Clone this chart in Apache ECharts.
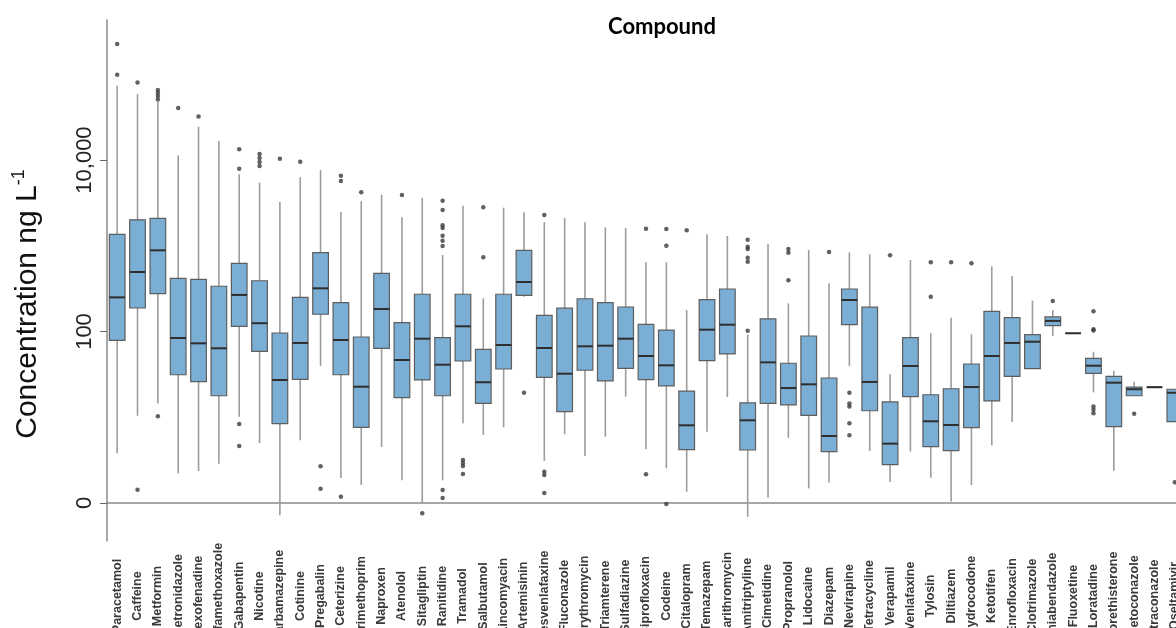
<!DOCTYPE html>
<html>
<head>
  <meta charset="utf-8">
  <title>Compound concentrations</title>
  <script src="https://cdn.jsdelivr.net/npm/echarts@6/dist/echarts.min.js"></script>
  <style>
    html, body { margin: 0; padding: 0; background: #fff; }
    #chart { width: 1176px; height: 628px; }
  </style>
</head>
<body>
<div id="chart"></div>
<script type="text/javascript">
// compounds, in plotted order
var compounds = ['Paracetamol', 'Caffeine', 'Metformin', 'Metronidazole', 'Fexofenadine', 'Sulfamethoxazole',
  'Gabapentin', 'Nicotine', 'Carbamazepine', 'Cotinine', 'Pregabalin', 'Ceterizine', 'Trimethoprim', 'Naproxen',
  'Atenolol', 'Sitagliptin', 'Ranitidine', 'Tramadol', 'Salbutamol', 'Lincomyacin', 'Artemisinin', 'Desvenlafaxine',
  'Fluconazole', 'Erythromycin', 'Triamterene', 'Sulfadiazine', 'Ciprofloxacin', 'Codeine', 'Citalopram', 'Temazepam',
  'Clarithromycin', 'Amitriptyline', 'Cimetidine', 'Propranolol', 'Lidocaine', 'Diazepam', 'Nevirapine', 'Tetracycline',
  'Verapamil', 'Venlafaxine', 'Tylosin', 'Diltiazem', 'Hydrocodone', 'Ketotifen', 'Enrofloxacin', 'Clotrimazole',
  'Thiabendazole', 'Fluoxetine', 'Loratadine', 'Norethisterone', 'Ketoconazole', 'Itraconazole', 'Oseltamivir'];

// box statistics, ng/L
var whiskerLow = [3.8, 10.4, 14.5, 2.2, 2.36, 2.87, 10.1, 5.0, 0.72, 5.39, 39.6, 1.96, 1.62, 4.5,
  1.84, 0.99, 1.84, 8.5, 6.21, 7.63, 255, 3.09, 6.33, 3.53, 5.93, 17.4, 4.23, 2.54, 1.35, 6.78,
  17.2, 0.69, 1.15, 5.77, 1.48, 1.73, 39.6, 4.04, 1.76, 3.97, 1.97, 1.04, 1.62, 4.71, 8.8, 36.8,
  88.6, 95.3, 19.5, 2.38, 17.8, 22.4, 8.87];
var quart1 = [79, 188, 276, 31.3, 26, 17.8, 115, 58.7, 8.41, 27.7, 159, 31.3, 7.63, 63.7,
  16.9, 27.2, 17.8, 45.3, 14.5, 36.5, 264, 29.2, 11.6, 35.3, 26.5, 37.2, 27.4, 23.2, 4.19, 45.7,
  54.7, 4.15, 14.5, 13.9, 10.5, 3.97, 120, 11.9, 2.8, 17.4, 4.53, 4.07, 7.55, 15.5, 30, 36.8,
  117, 95.3, 32.5, 7.76, 17.8, 22.4, 8.87];
var medians = [250, 494, 885, 84, 72.8, 63.7, 267, 125, 27.2, 73.5, 319, 79.6, 22.7, 183,
  46.5, 82.4, 41, 115, 25.6, 69.6, 378, 64.2, 32.2, 67.2, 68.3, 82.4, 51.8, 40.3, 8.05, 105,
  120, 9.21, 43.7, 21.9, 24.2, 6.04, 233, 25.8, 4.92, 39.6, 8.97, 8.12, 22.5, 51.8, 73.5, 76,
  133, 95.3, 39.9, 25.3, 21.2, 22.4, 19.3];
var quart3 = [1360, 2010, 2090, 417, 406, 337, 624, 391, 96.1, 250, 830, 217, 86.3, 477,
  127, 272, 84.7, 272, 62, 272, 885, 154, 187, 241, 217, 193, 121, 104, 20.2, 235,
  313, 14.7, 140, 42.6, 88.6, 28.7, 313, 192, 15.1, 84.7, 18.3, 21.5, 41.8, 172, 145, 91.8,
  148, 95.3, 48.7, 30, 22.5, 22.4, 21.2];
var whiskerHigh = [73500, 58400, 47500, 11300, 24400, 16700, 6810, 5440, 3240, 6290, 7640, 2470, 3300, 3940,
  2150, 3600, 780, 2930, 244, 2780, 2455, 1890, 2110, 1877, 1640, 1610, 641, 641, 178, 1360,
  1300, 91.8, 1048, 213, 892, 365, 839, 795, 31.7, 682, 95.3, 145, 92.7, 576, 444, 229,
  178, 95.3, 58.1, 34.9, 26, 22.4, 21.2];
var outliers = [
  [225000, 99000], [80500, 1.43], [65500, 60400, 55700, 50800, 10.3], [40400], [32300], [],
  [13400, 7920, 8.34, 4.62], [11750, 10550, 9480, 8510], [10350], [9550], [2.68, 1.46], [6560, 5690, 1.18],
  [4200], [], [3910], [0.76], [3350, 2610, 1730, 1610, 1310, 1145, 993, 1.42, 1.14], [3.17, 2.93, 2.7, 2.18],
  [2810, 733], [], [19.3], [2285, 2.32, 2.12, 1.31], [], [], [], [], [1580, 2.16], [1567, 1000, 0.97],
  [1515], [], [], [1177, 975, 916, 726, 652, 102], [], [916, 830, 395], [], [846],
  [19.3, 14.5, 13.3, 8.5, 6.16], [], [774], [], [641, 255], [641], [624], [], [], [],
  [227], [], [172, 106, 103, 13.3, 12.2, 11.1], [], [11], [], [1.74]
];

// axis ticks: value shown as "0" sits at 1 ng/L
var yTickValues = [1, 100, 10000];
var yTickLabels = ['0', '100', '10,000'];

var log10 = function (v) { return Math.log10(v); };
var yTicksLog = yTickValues.map(log10);

var boxData = compounds.map(function (c, i) {
  return [i, log10(whiskerLow[i]), log10(quart1[i]), log10(medians[i]), log10(quart3[i]), log10(whiskerHigh[i])];
});
var outlierData = [];
outliers.forEach(function (list, i) {
  list.forEach(function (v) { outlierData.push([i, log10(v)]); });
});

function renderBox(params, api) {
  var idx = api.value(0);
  var lo = api.coord([idx, api.value(1)]);
  var q1 = api.coord([idx, api.value(2)]);
  var med = api.coord([idx, api.value(3)]);
  var q3 = api.coord([idx, api.value(4)]);
  var hi = api.coord([idx, api.value(5)]);
  var w = api.size([1, 0])[0] * 0.77;
  var x = med[0];
  return {
    type: 'group',
    children: [
      { type: 'line', shape: { x1: x, y1: lo[1], x2: x, y2: hi[1] },
        style: { stroke: '#9c9c9c', lineWidth: 1.6 } },
      { type: 'rect', shape: { x: x - w / 2, y: q3[1], width: w, height: q1[1] - q3[1] },
        style: { fill: '#7aaed4', stroke: '#5e5e5e', lineWidth: 1.2 } },
      { type: 'line', shape: { x1: x - w / 2, y1: med[1], x2: x + w / 2, y2: med[1] },
        style: { stroke: '#2e2e2e', lineWidth: 2 } }
    ]
  };
}

var myChart = echarts.init(document.getElementById('chart'));
myChart.setOption({
  animation: false,
  backgroundColor: '#ffffff',
  grid: { left: 107, top: 20, width: 1078, height: 521, outerBoundsMode: 'none', containLabel: false },
  xAxis: {
    type: 'category',
    data: compounds,
    boundaryGap: true,
    axisLine: { lineStyle: { color: '#8a8a8a', width: 1.5 } },
    axisTick: { alignWithLabel: true, length: 3, lineStyle: { color: '#8a8a8a' } },
    axisLabel: {
      interval: 0, rotate: 90, align: 'center', verticalAlign: 'middle', margin: 55,
      fontFamily: 'Liberation Sans', fontSize: 12.5, fontWeight: 'bold', color: '#3a3a3a'
    },
    splitLine: { show: false }
  },
  yAxis: {
    type: 'value',
    min: log10(0.36),
    max: log10(430000),
    axisLine: { show: true, lineStyle: { color: '#8a8a8a', width: 1.5 } },
    axisTick: { show: true, customValues: yTicksLog, length: 7, lineStyle: { color: '#666' } },
    axisLabel: {
      customValues: yTicksLog, rotate: 90, align: 'center', verticalAlign: 'middle', margin: 22,
      fontFamily: 'Liberation Sans', fontSize: 22, color: '#222',
      formatter: function (v) {
        var k = yTicksLog.findIndex(function (t) { return Math.abs(t - v) < 1e-6; });
        return k >= 0 ? yTickLabels[k] : '';
      }
    },
    splitLine: { show: false }
  },
  graphic: [
    { type: 'text', x: 662, y: 27,
      style: { text: 'Compound', font: 'bold 22px Lato', fill: '#000',
               align: 'center', verticalAlign: 'middle', textAlign: 'center', textVerticalAlign: 'middle' } },
    { type: 'text', x: 28, y: 304, rotation: Math.PI / 2,
      style: { text: '{a|Concentration ng L}{b|-1}', fill: '#111',
               align: 'center', verticalAlign: 'middle', textAlign: 'center', textVerticalAlign: 'middle',
               rich: {
                 a: { fontFamily: 'Liberation Sans', fontSize: 30, lineHeight: 36, fill: '#111' },
                 b: { fontFamily: 'Liberation Sans', fontSize: 18, lineHeight: 36, verticalAlign: 'top', fill: '#111' }
               } } }
  ],
  series: [
    {
      name: 'box',
      type: 'custom',
      renderItem: renderBox,
      encode: { x: 0, y: [1, 2, 3, 4, 5] },
      data: boxData,
      z: 2
    },
    {
      name: 'outliers',
      type: 'scatter',
      symbolSize: 4.5,
      itemStyle: { color: '#3a3a3a' },
      data: outlierData,
      z: 3
    }
  ]
});
</script>
</body>
</html>
